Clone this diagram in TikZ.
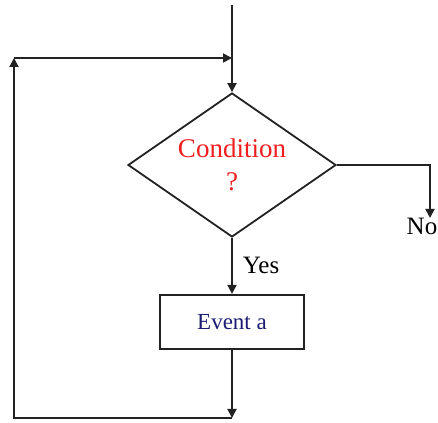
\documentclass[tikz,border=0pt]{standalone}
\usepackage{fontspec}
\setmainfont{Liberation Serif}
\usetikzlibrary{arrows.meta,positioning,shapes.geometric}
\definecolor{condred}{HTML}{F01E1E}
\definecolor{evnavy}{HTML}{1C1C72}
\definecolor{lineC}{HTML}{222222}
\tikzset{
  test/.style={diamond, draw=lineC, line width=0.9pt, aspect=1.44, inner sep=0pt,
               minimum width=104pt, minimum height=72pt, align=center,
               font=\fontsize{13.5}{16.5}\selectfont, text=condred},
  event/.style={rectangle, draw=lineC, line width=0.9pt, minimum width=72pt,
                minimum height=27pt, font=\fontsize{11.5}{13}\selectfont, text=evnavy},
  lbl/.style={font=\fontsize{12.5}{14}\selectfont, inner sep=0pt},
  arr/.style={-{Triangle[length=4.5pt,width=4.5pt]}, line width=0.9pt, draw=lineC},
}

\begin{document}
\begin{tikzpicture}[x=1pt,y=1pt,node distance=28pt]
        \useasboundingbox (0,0) rectangle (219,211);
        \node[test] (cond) at (116,128.5) {Condition\\?};
        \node[event, below=of cond] (ev) {Event a};
        \node[lbl, anchor=north] (no) at (211,102) {No};
        \coordinate (start) at (116,208.5);
        \coordinate (join) at (116,182);
        \coordinate (back) at (116,2);
        \coordinate (leftbot) at (7,2);
        \coordinate (lefttop) at (7,182);
        \coordinate (turn) at (215,128.5);
        \draw[arr] (start) -- (cond.north);
        \draw[arr] (cond.east) -- (turn) -- (no.north -| turn);
        \draw[arr] (cond.south) -- node[lbl, right=5pt] (yes) {Yes} (ev.north);
        \draw[arr] (ev.south) -- (back);
        \draw[arr] (back) -- (leftbot) -- (lefttop);
        \draw[arr] (lefttop) -- (join);
      \end{tikzpicture}
\end{document}
